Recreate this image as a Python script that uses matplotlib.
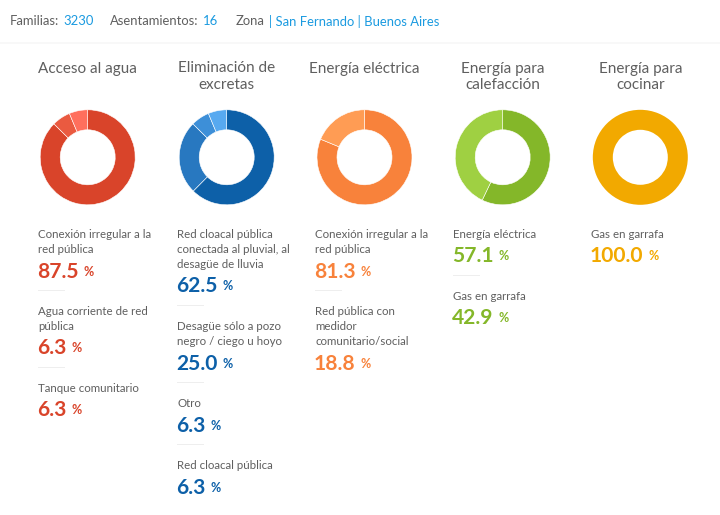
import matplotlib
matplotlib.use("Agg")
import matplotlib.pyplot as plt

W, H = 720, 515
FONT = "Lato"
GRAY = "#5f5f5f"
LINK = "#1a9ae0"

titles = [["Acceso al agua"], ["Eliminación de", "excretas"], ["Energía eléctrica"],
          ["Energía para", "calefacción"], ["Energía para", "cocinar"]]
agua_labels = [["Conexión irregular a la", "red pública"], ["Agua corriente de red", "pública"], ["Tanque comunitario"]]
agua_values = [87.5, 6.3, 6.3]
excretas_labels = [["Red cloacal pública", "conectada al pluvial, al", "desagüe de lluvia"],
                   ["Desagüe sólo a pozo", "negro / ciego u hoyo"], ["Otro"], ["Red cloacal pública"]]
excretas_values = [62.5, 25.0, 6.3, 6.3]
electrica_labels = [["Conexión irregular a la", "red pública"],
                    ["Red pública con", "medidor", "comunitario/social"]]
electrica_values = [81.3, 18.8]
calefaccion_labels = [["Energía eléctrica"], ["Gas en garrafa"]]
calefaccion_values = [57.1, 42.9]
cocinar_labels = [["Gas en garrafa"]]
cocinar_values = [100.0]

all_labels = [agua_labels, excretas_labels, electrica_labels, calefaccion_labels, cocinar_labels]
all_values = [agua_values, excretas_values, electrica_values, calefaccion_values, cocinar_values]
palettes = [["#d9442a", "#ea5a40", "#ff6f5d"],
            ["#0d60a8", "#2878c0", "#3d8fd8", "#57a9f0"],
            ["#f8823b", "#ff9c54"],
            ["#84b729", "#9fd042"],
            ["#f2a900"]]
main_colors = ["#d9442a", "#0d60a8", "#f8823b", "#84b729", "#f2a900"]
centers = [87.7, 226.7, 364.5, 502.7, 640.3]
text_x = [38, 177, 315, 453, 591]
CY, R = 157.3, 47.5

fig = plt.figure(figsize=(W / 100, H / 100), dpi=100, facecolor="white")


def T(x, y, s, size, color=GRAY, ha="left", weight="normal"):
    return fig.text(x / W, 1 - y / H, s, fontsize=size * 0.72, color=color, ha=ha, va="center",
                    family=FONT, weight=weight)


def rule(x0, x1, y, color, lw=1):
    fig.add_artist(plt.Line2D([x0 / W, x1 / W], [1 - y / H] * 2, color=color, lw=lw * 0.72))


# header
for x, s, c in [(10, "Familias:", GRAY), (63, "3230", LINK), (110, "Asentamientos:", GRAY), (203, "16", LINK),
                (236, "Zona", GRAY), (269, "| San Fernando | Buenos Aires", LINK)]:
    T(x, 21, s, 13, c)
rule(0, 720, 42.5, "#f7f7f7", 1.5)

renderer = fig.canvas.get_renderer()
for i in range(5):
    for k, line in enumerate(titles[i]):
        T(centers[i], 68.5 + 16.5 * k, line, 15.3, GRAY, ha="center")
    ax = fig.add_axes([(centers[i] - R) / W, 1 - (CY + R) / H, 2 * R / W, 2 * R / H])
    ax.pie(all_values[i], colors=palettes[i], startangle=90, counterclock=False, radius=1,
           wedgeprops=dict(width=20 / 47.5, edgecolor="white", linewidth=0.4 if len(all_values[i]) > 1 else 0))
    ax.set_xlim(-1, 1)
    ax.set_ylim(-1, 1)
    y = 234.5
    for j, (lab, val) in enumerate(zip(all_labels[i], all_values[i])):
        for line in lab:
            T(text_x[i], y, line, 11.55, GRAY)
            y += 15
        y += 7
        t = T(text_x[i] - 1, y, f"{val:.1f}", 21, main_colors[i], weight="bold")
        ext = t.get_window_extent(renderer)
        T(ext.x1 + 5, y, "%", 12.5, main_colors[i], weight="bold")
        y += 18.5
        if j < len(all_labels[i]) - 1:
            rule(text_x[i], text_x[i] + 26, y, "#eeeeee")
        y += 21.5

fig.savefig("out.png", dpi=100)
